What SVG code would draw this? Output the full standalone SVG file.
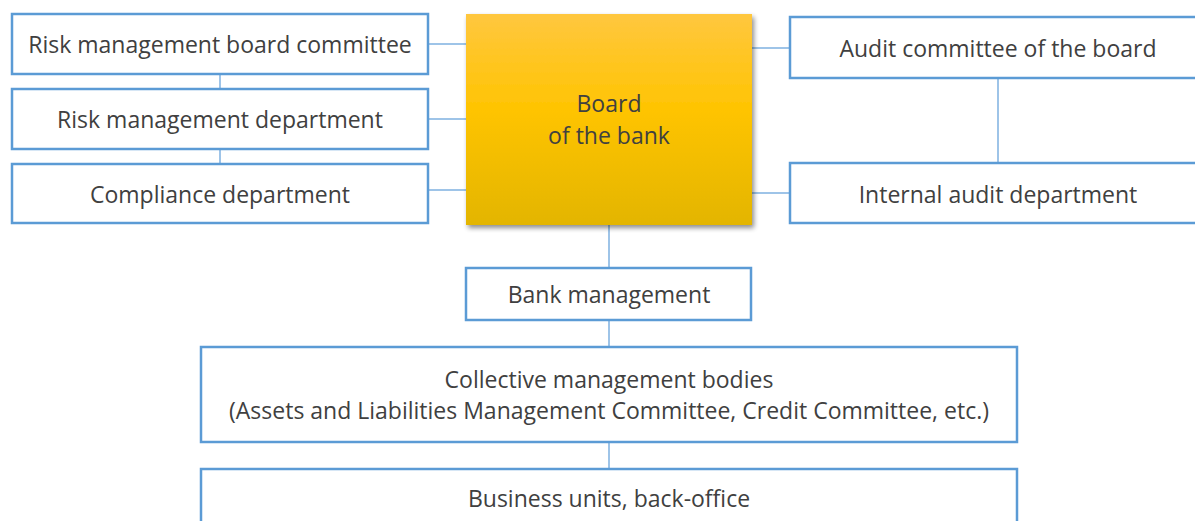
<svg xmlns="http://www.w3.org/2000/svg" width="1195" height="521" viewBox="0 0 1195 521">
<defs>
<linearGradient id="gold" x1="0" y1="0" x2="0" y2="1">
<stop offset="0" stop-color="#FFC73F"/>
<stop offset="0.45" stop-color="#FFC402"/>
<stop offset="1" stop-color="#E3B500"/>
</linearGradient>
<filter id="sh" x="-10%" y="-10%" width="125%" height="125%">
<feGaussianBlur in="SourceAlpha" stdDeviation="2.5"/>
<feOffset dx="2" dy="3"/>
<feComponentTransfer><feFuncA type="linear" slope="0.45"/></feComponentTransfer>
<feMerge><feMergeNode/><feMergeNode in="SourceGraphic"/></feMerge>
</filter>
</defs>
<style>
.box{fill:#fff;stroke:#5B9BD5;stroke-width:2.5}
.ln{stroke:#7EB0E0;stroke-width:1.5;fill:none}
.t{font-family:"Open Sans","Noto Sans",sans-serif;font-size:23px;fill:#404040;text-anchor:middle}
.tb{font-family:"Open Sans","Noto Sans",sans-serif;font-size:23px;fill:#404040;text-anchor:middle}
</style>
<rect width="1195" height="521" fill="#fff"/>
<g id="connectors">
<line class="ln" x1="220" y1="74" x2="220" y2="89"/>
<line class="ln" x1="220" y1="149" x2="220" y2="164"/>
<line class="ln" x1="428" y1="44" x2="466" y2="44"/>
<line class="ln" x1="428" y1="119" x2="466" y2="119"/>
<line class="ln" x1="428" y1="190" x2="466" y2="190"/>
<line class="ln" x1="752" y1="48" x2="790" y2="48"/>
<line class="ln" x1="752" y1="193" x2="790" y2="193"/>
<line class="ln" x1="998" y1="78" x2="998" y2="163"/>
<line class="ln" x1="609" y1="225" x2="609" y2="268"/>
<line class="ln" x1="609" y1="320" x2="609" y2="347"/>
<line class="ln" x1="609" y1="442" x2="609" y2="469"/>
</g>
<g id="risk-committee">
<rect class="box" x="12" y="14" width="416" height="60"/>
<text class="t" x="220" y="53">Risk management board committee</text>
</g>
<g id="risk-dept">
<rect class="box" x="12" y="89" width="416" height="60"/>
<text class="t" x="220" y="128">Risk management department</text>
</g>
<g id="compliance">
<rect class="box" x="12" y="164" width="416" height="59"/>
<text class="t" x="220" y="203">Compliance department</text>
</g>
<g id="board">
<rect x="466" y="14" width="286" height="211" fill="url(#gold)" filter="url(#sh)"/>
<text class="t" x="609" y="112" fill="#3d3a20">Board</text>
<text class="t" x="609" y="144" fill="#3d3a20">of the bank</text>
</g>
<g id="audit-committee">
<rect class="box" x="790" y="17" width="416" height="61"/>
<text class="t" x="998" y="57">Audit committee of the board</text>
</g>
<g id="internal-audit">
<rect class="box" x="790" y="163" width="416" height="60"/>
<text class="t" x="998" y="203">Internal audit department</text>
</g>
<g id="bank-management">
<rect class="box" x="466" y="268" width="285" height="52"/>
<text class="tb" x="609" y="303">Bank management</text>
</g>
<g id="collective">
<rect class="box" x="201" y="347" width="816" height="95"/>
<text class="tb" x="609" y="388">Collective management bodies</text>
<text class="tb" x="609" y="419">(Assets and Liabilities Management Committee, Credit Committee, etc.)</text>
</g>
<g id="business-units">
<rect class="box" x="201" y="469" width="816" height="70"/>
<text class="tb" x="609" y="507">Business units, back-office</text>
</g>
</svg>
